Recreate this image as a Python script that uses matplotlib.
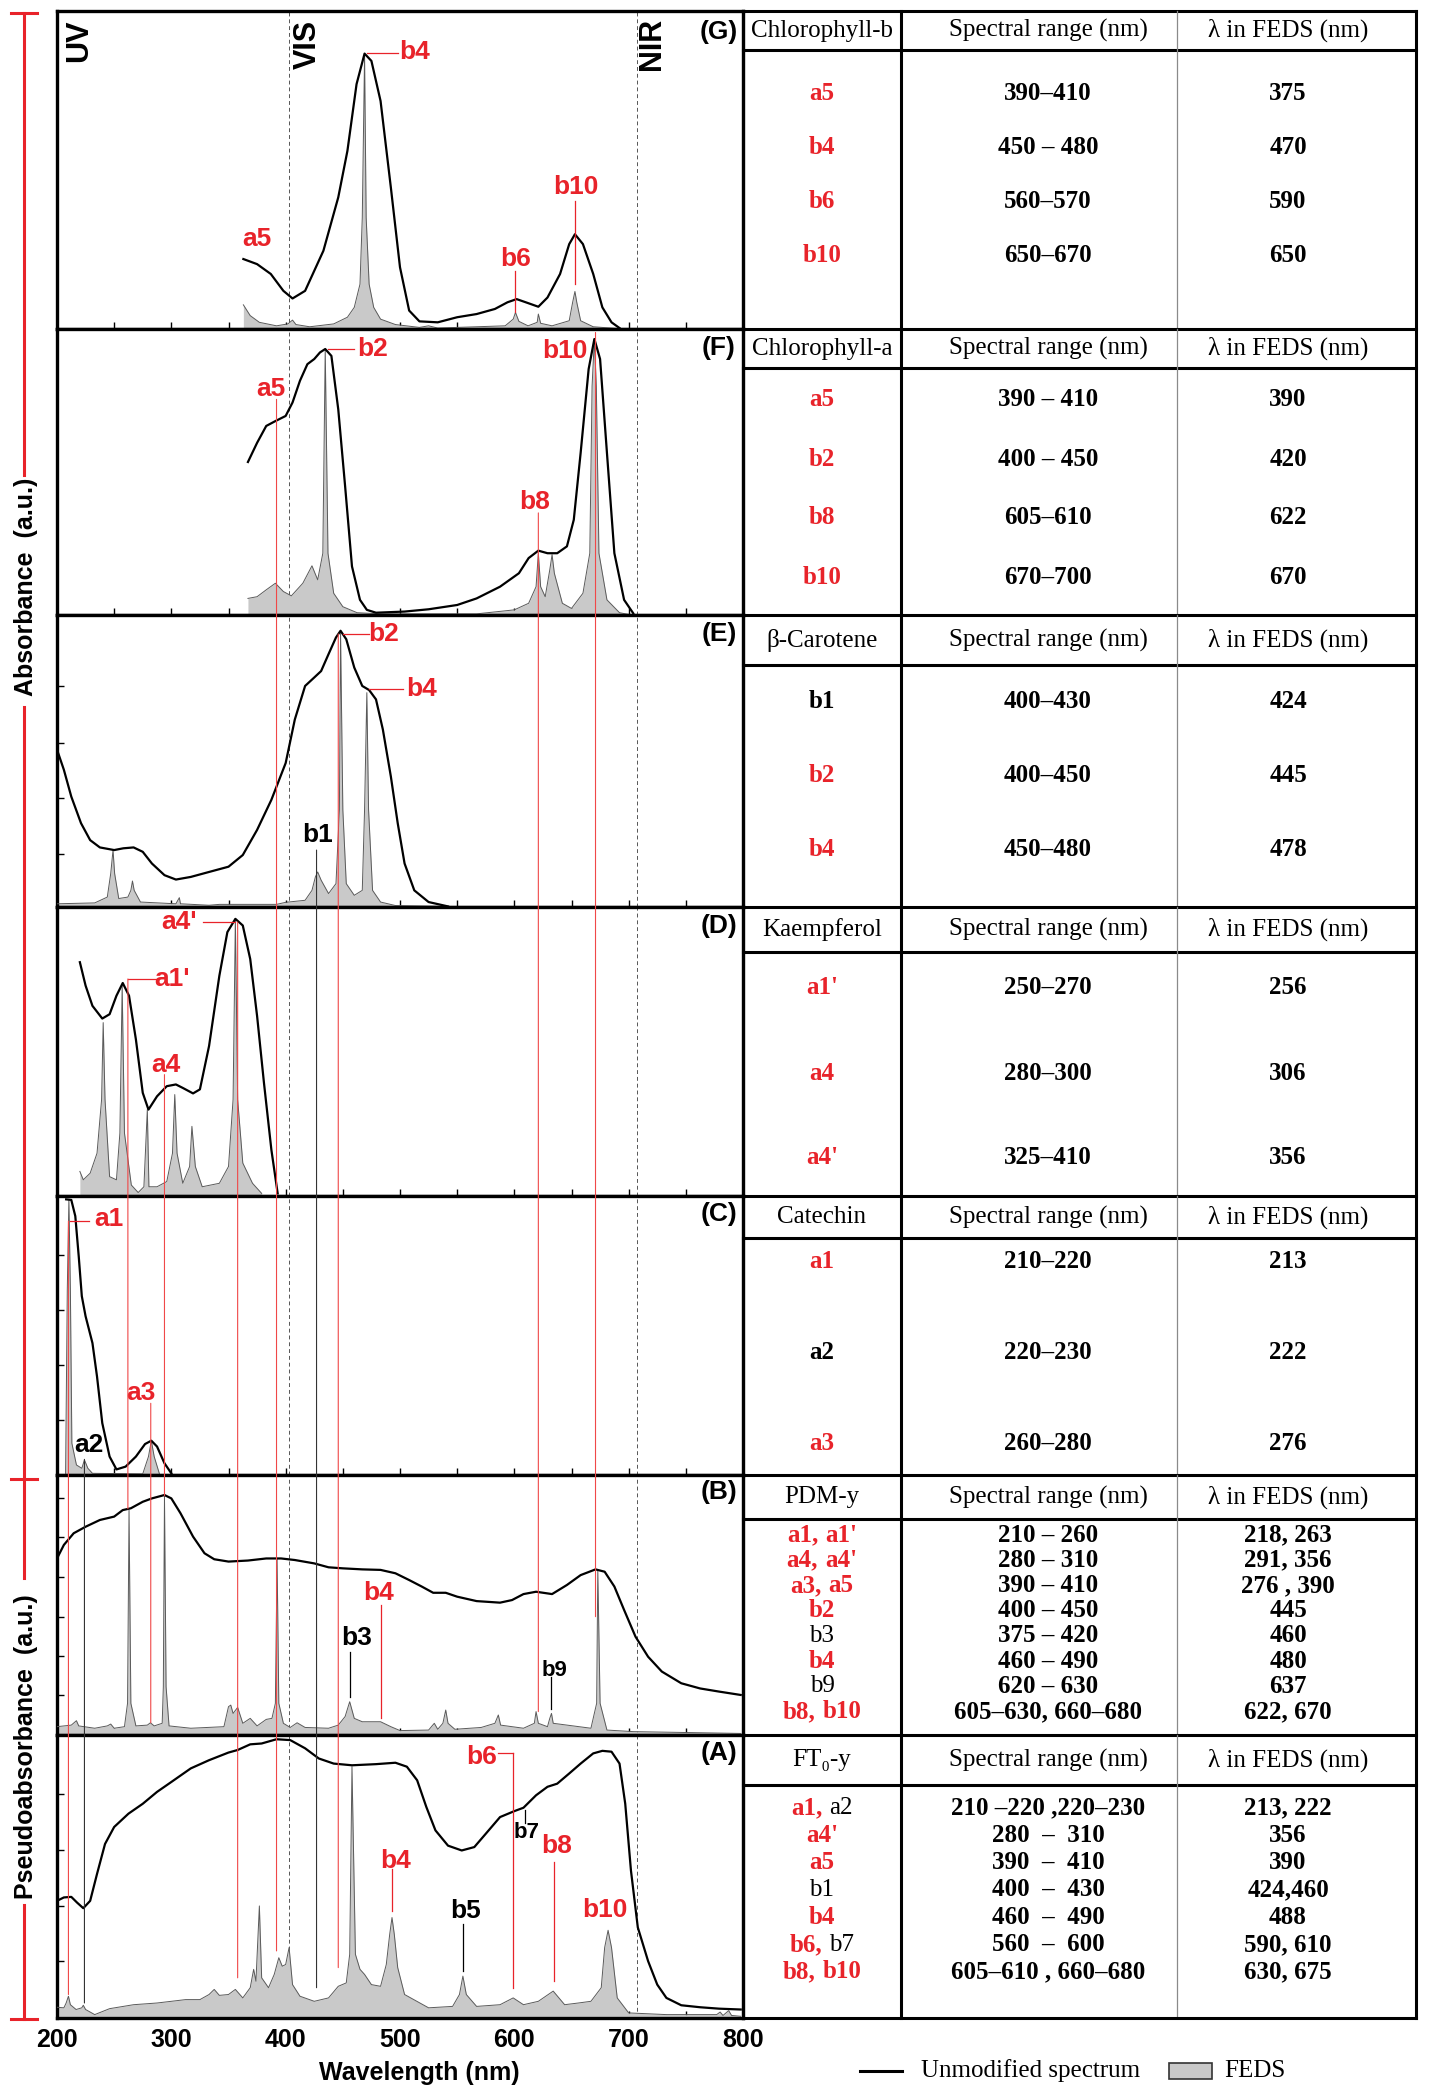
import matplotlib
matplotlib.use('Agg')
import matplotlib.pyplot as plt
import numpy as np
from matplotlib.patches import ConnectionPatch, Rectangle
from matplotlib.offsetbox import TextArea, HPacker, AnnotationBbox

SANS = ['Liberation Sans', 'DejaVu Sans']
SERIF = ['Liberation Serif', 'DejaVu Serif']
plt.rcParams['font.family'] = SANS

RED = '#e8232a'
W, H = 1432, 2093

# ---------------- data: spectra (wavelength nm, absorbance a.u.) ----------------
g_line = [(363, 0.220), (375, 0.204), (387, 0.173), (398, 0.120), (406, 0.096), (417, 0.120),
          (433, 0.246), (446, 0.414), (454, 0.560), (462, 0.770), (469, 0.866), (475, 0.843),
          (483, 0.717), (492, 0.445), (500, 0.194), (508, 0.058), (517, 0.024), (533, 0.021),
          (550, 0.037), (567, 0.047), (583, 0.063), (594, 0.084), (602, 0.094), (610, 0.084),
          (621, 0.070), (629, 0.099), (640, 0.173), (648, 0.267), (653, 0.298), (660, 0.267),
          (669, 0.173), (677, 0.068), (685, 0.021), (692, 0.003)]
g_feds = [(363, 0.076), (369, 0.042), (377, 0.021), (392, 0.010), (402, 0.016), (406, 0.028),
          (409, 0.014), (421, 0.007), (442, 0.016), (454, 0.037), (460, 0.068), (465, 0.141),
          (467, 0.350), (469, 0.860), (470.4, 0.350), (473, 0.141), (477, 0.068), (483, 0.031),
          (496, 0.014), (517, 0.005), (525, 0.010), (533, 0.003), (592, 0.010), (599, 0.031),
          (601, 0.052), (604, 0.024), (612, 0.010), (620, 0.021), (621, 0.047), (623, 0.018),
          (633, 0.010), (648, 0.026), (651, 0.084), (653, 0.118), (654.6, 0.084), (658, 0.026),
          (669, 0.007), (692, 0.001), (800, 0.001)]

f_line = [(367, 0.535), (375, 0.602), (383, 0.661), (391, 0.678), (400, 0.696), (406, 0.743),
          (412.5, 0.819), (419, 0.877), (425, 0.895), (430, 0.918), (434.6, 0.930), (440, 0.906),
          (446, 0.719), (452, 0.450), (458, 0.170), (465, 0.053), (471, 0.018), (479, 0.008),
          (504, 0.012), (525, 0.020), (550, 0.035), (567, 0.058), (587.5, 0.099), (604, 0.146),
          (612.5, 0.199), (621, 0.225), (629, 0.216), (637.5, 0.216), (646, 0.240), (652, 0.333),
          (658, 0.567), (665, 0.860), (670, 0.965), (675, 0.895), (681, 0.567), (687.5, 0.216),
          (696, 0.053), (704, 0.006)]
f_feds = [(367, 0.058), (375, 0.064), (383, 0.088), (391, 0.111), (398, 0.082), (405, 0.067),
          (415, 0.111), (423, 0.172), (428, 0.123), (432.5, 0.216), (434.6, 0.930), (437, 0.216),
          (442, 0.076), (450, 0.029), (462.5, 0.008), (483, 0.004), (567, 0.004), (600, 0.018),
          (612.5, 0.041), (619, 0.099), (621, 0.216), (623, 0.099), (627, 0.064), (631, 0.158),
          (633, 0.211), (635, 0.146), (642, 0.041), (650, 0.023), (660, 0.076), (666, 0.216),
          (668, 0.800), (670, 0.965), (671.7, 0.800), (674, 0.216), (681, 0.053), (692, 0.008),
          (700, 0.002)]

e_line = [(200, 0.539), (206, 0.470), (212.5, 0.378), (221, 0.287), (229, 0.229), (237.5, 0.204),
          (250, 0.195), (258, 0.201), (267, 0.204), (275, 0.189), (283, 0.149), (294, 0.109),
          (304, 0.094), (317, 0.103), (333, 0.120), (350, 0.138), (362.5, 0.178), (375, 0.264),
          (387.5, 0.367), (400, 0.493), (408, 0.642), (417, 0.757), (425, 0.786), (431, 0.808),
          (437.5, 0.866), (444, 0.923), (448, 0.946), (453, 0.917), (460, 0.820), (467, 0.757),
          (473, 0.743), (479, 0.711), (485, 0.608), (492, 0.447), (498, 0.287), (504, 0.149),
          (512.5, 0.057), (525, 0.017), (542, 0.002)]
e_feds = [(200, 0.011), (233, 0.014), (244, 0.034), (247, 0.115), (249, 0.195), (250.4, 0.115),
          (254, 0.029), (262, 0.034), (264.6, 0.057), (266, 0.089), (267.5, 0.057), (273, 0.017),
          (304, 0.011), (307, 0.032), (308, 0.011), (333, 0.006), (342, 0.009), (392, 0.009),
          (400, 0.016), (417, 0.023), (423, 0.057), (426, 0.103), (428, 0.120), (431, 0.092),
          (437.5, 0.046), (444, 0.080), (447, 0.333), (448, 0.940), (450, 0.333), (453, 0.080),
          (460, 0.040), (467, 0.057), (469, 0.333), (471, 0.734), (472.5, 0.333), (476, 0.057),
          (483, 0.017), (496, 0.005), (540, 0.002)]

d_line = [(220, 0.809), (225, 0.728), (231, 0.658), (239.6, 0.614), (246, 0.629), (252, 0.693),
          (257.5, 0.737), (263, 0.693), (269, 0.542), (275, 0.357), (280, 0.299), (287.5, 0.345),
          (296, 0.380), (304, 0.386), (310, 0.374), (319, 0.355), (325, 0.369), (333, 0.519),
          (342, 0.762), (349, 0.913), (356, 0.959), (362.5, 0.936), (369, 0.820), (375, 0.623),
          (381, 0.392), (387.5, 0.160), (393, 0.009)]
d_feds = [(220, 0.085), (223, 0.056), (229, 0.079), (235, 0.148), (239, 0.334), (240.4, 0.600),
          (242, 0.334), (246, 0.067), (252, 0.056), (255, 0.218), (257, 0.728), (259, 0.218),
          (265, 0.038), (271, 0.012), (276, 0.032), (279, 0.299), (280.4, 0.032), (287.5, 0.032),
          (296, 0.050), (301, 0.148), (303, 0.351), (305, 0.148), (310, 0.044), (316, 0.102),
          (318, 0.241), (321, 0.102), (327, 0.032), (342, 0.044), (350, 0.102), (354, 0.334),
          (356, 0.959), (358, 0.334), (362.5, 0.114), (371, 0.044), (379, 0.009)]

c_line = [(208, 0.988), (212.5, 0.986), (216, 0.928), (219, 0.784), (221.7, 0.641), (225, 0.569),
          (231, 0.473), (235, 0.353), (239.6, 0.186), (246, 0.066), (252, 0.020), (260, 0.030),
          (269, 0.066), (277, 0.111), (282.5, 0.123), (287.5, 0.102), (294, 0.042), (300, 0.006)]
c_feds = [(207.5, 0.0), (209, 0.665), (210.4, 0.988), (211.7, 0.665), (213, 0.114), (217, 0.036),
          (221.7, 0.024), (224, 0.054), (227, 0.024), (231, 0.006), (275, 0.004), (280, 0.066),
          (282.5, 0.123), (285, 0.066), (289.6, 0.004)]

b_line = [(200, 0.679), (206, 0.731), (214.6, 0.776), (225, 0.801), (237.5, 0.827), (250, 0.840),
          (257.5, 0.865), (264.6, 0.872), (275, 0.897), (283, 0.910), (294, 0.923), (300, 0.910),
          (308, 0.853), (319, 0.763), (329, 0.699), (337.5, 0.676), (350, 0.667), (367, 0.671),
          (383, 0.679), (396, 0.679), (408, 0.673), (425, 0.660), (437.5, 0.645), (450, 0.641),
          (467, 0.637), (483, 0.635), (496, 0.622), (508, 0.596), (519, 0.571), (529, 0.547),
          (540, 0.547), (550, 0.532), (567, 0.515), (587.5, 0.509), (598, 0.519), (608, 0.542),
          (619, 0.551), (633, 0.542), (646, 0.577), (658, 0.615), (671, 0.637), (679, 0.628),
          (687.5, 0.571), (696, 0.481), (706, 0.378), (717, 0.301), (729, 0.244), (746, 0.199),
          (762.5, 0.179), (779, 0.167), (798, 0.154)]
b_feds = [(200, 0.032), (212.5, 0.038), (217, 0.055), (219, 0.035), (233, 0.026), (244, 0.035),
          (247, 0.042), (250, 0.026), (259, 0.032), (261.7, 0.122), (263, 0.865), (264.6, 0.122),
          (269, 0.035), (279, 0.038), (281.7, 0.047), (285, 0.035), (292, 0.045), (293, 0.186),
          (294, 0.919), (295.4, 0.186), (298, 0.035), (317, 0.026), (346, 0.032), (350, 0.109),
          (352, 0.115), (354, 0.083), (358, 0.106), (362.5, 0.045), (369, 0.064), (375, 0.035),
          (383, 0.060), (388, 0.064), (391, 0.122), (392.5, 0.679), (394, 0.122), (398, 0.045),
          (404, 0.029), (410, 0.047), (417, 0.029), (437.5, 0.026), (446, 0.038), (452, 0.071),
          (456, 0.128), (460, 0.064), (467, 0.051), (483, 0.051), (492, 0.032), (500, 0.017),
          (525, 0.019), (530, 0.045), (533, 0.022), (537.5, 0.045), (540, 0.096), (542, 0.045),
          (548, 0.022), (571, 0.029), (583, 0.045), (586, 0.077), (588, 0.038), (608, 0.026),
          (617.5, 0.045), (619, 0.090), (621, 0.045), (629, 0.032), (631, 0.064), (632.5, 0.083),
          (634, 0.045), (667, 0.026), (672, 0.122), (673, 0.635), (675, 0.122), (681, 0.019),
          (704, 0.013), (798, 0.006)]

a_line = [(200, 0.414), (206, 0.426), (212.5, 0.428), (217.5, 0.408), (223, 0.388), (229, 0.414),
          (235, 0.509), (242, 0.615), (250, 0.675), (262.5, 0.722), (275, 0.757), (287.5, 0.799),
          (300, 0.834), (317, 0.882), (333, 0.911), (350, 0.938), (358, 0.947), (369, 0.967),
          (379, 0.970), (392, 0.985), (404, 0.982), (417, 0.953), (429, 0.917), (442, 0.899),
          (458, 0.893), (479, 0.897), (496, 0.902), (506, 0.888), (515, 0.840), (523, 0.746),
          (531, 0.663), (542, 0.609), (554, 0.592), (565, 0.604), (575, 0.651), (587.5, 0.710),
          (600, 0.731), (608, 0.743), (619, 0.787), (629, 0.817), (637.5, 0.828), (648, 0.864),
          (658, 0.899), (669, 0.935), (677, 0.944), (685, 0.941), (692, 0.899), (697, 0.757),
          (702, 0.521), (708, 0.320), (717, 0.201), (725, 0.118), (733, 0.071), (746, 0.045),
          (762.5, 0.038), (779, 0.033), (798, 0.030)]
a_feds = [(200, 0.038), (206, 0.036), (208, 0.053), (210, 0.077), (211.7, 0.047), (216.7, 0.030),
          (221.7, 0.036), (223, 0.045), (225, 0.030), (233, 0.012), (246, 0.033), (267, 0.047),
          (287.5, 0.053), (312.5, 0.065), (325, 0.065), (333, 0.083), (337.5, 0.101), (342, 0.080),
          (350, 0.083), (356, 0.101), (362.5, 0.071), (369, 0.107), (372, 0.172), (374, 0.130),
          (377, 0.396), (379, 0.142), (385, 0.107), (390, 0.154), (394, 0.213), (397, 0.183),
          (400, 0.189), (403, 0.249), (406, 0.118), (412.5, 0.077), (425, 0.059), (437.5, 0.071),
          (446, 0.112), (453, 0.124), (456, 0.225), (458, 0.888), (461, 0.225), (465, 0.172),
          (469, 0.154), (475, 0.118), (483, 0.112), (488, 0.189), (491, 0.296), (493, 0.355),
          (495, 0.296), (498, 0.178), (504, 0.083), (525, 0.036), (546, 0.041), (552, 0.083),
          (555, 0.148), (558, 0.083), (567, 0.041), (587.5, 0.047), (599, 0.071), (608, 0.047),
          (621, 0.059), (634, 0.095), (644, 0.047), (656, 0.053), (667, 0.059), (676, 0.107),
          (679, 0.249), (682, 0.310), (685, 0.249), (690, 0.071), (700, 0.018), (733, 0.012),
          (777, 0.012), (780, 0.021), (782.5, 0.009), (787.5, 0.026), (790, 0.009), (798, 0.006)]

spectra = {'G': (g_line, g_feds), 'F': (f_line, f_feds), 'E': (e_line, e_feds),
           'D': (d_line, d_feds), 'C': (c_line, c_feds), 'B': (b_line, b_feds),
           'A': (a_line, a_feds)}

# peaks that are matched across spectra (drawn in red)
red_peaks = {"a1", "a1'", "a3", "a4", "a4'", "a5", "b2", "b4", "b6", "b8", "b10"}

# ---------------- data: tables ----------------
chlb_peaks = ['a5', 'b4', 'b6', 'b10']
chlb_range = ['390–410', '450 – 480', '560–570', '650–670']
chlb_lam = ['375', '470', '590', '650']

chla_peaks = ['a5', 'b2', 'b8', 'b10']
chla_range = ['390 – 410', '400 – 450', '605–610', '670–700']
chla_lam = ['390', '420', '622', '670']

carot_peaks = ['b1', 'b2', 'b4']
carot_range = ['400–430', '400–450', '450–480']
carot_lam = ['424', '445', '478']

kaem_peaks = ["a1'", 'a4', "a4'"]
kaem_range = ['250–270', '280–300', '325–410']
kaem_lam = ['256', '306', '356']

cat_peaks = ['a1', 'a2', 'a3']
cat_range = ['210–220', '220–230', '260–280']
cat_lam = ['213', '222', '276']

pdm_peaks = ["a1, a1'", "a4, a4'", 'a3, a5', 'b2', 'b3', 'b4', 'b9', 'b8, b10']
pdm_range = ['210 – 260', '280 – 310', '390 – 410', '400 – 450', '375 – 420', '460 – 490',
             '620 – 630', '605–630, 660–680']
pdm_lam = ['218, 263', '291, 356', '276 , 390', '445', '460', '480', '637', '622, 670']

ft_peaks = ['a1, a2', "a4'", 'a5', 'b1', 'b4', 'b6, b7', 'b8, b10']
ft_range = ['210 –220 ,220–230', '280  –  310', '390  –  410', '400  –  430', '460  –  490',
            '560  –  600', '605–610 , 660–680']
ft_lam = ['213, 222', '356', '390', '424,460', '488', '590, 610', '630, 675']

tables = [('Chlorophyll-b', chlb_peaks, chlb_range, chlb_lam),
          ('Chlorophyll-a', chla_peaks, chla_range, chla_lam),
          ('β-Carotene', carot_peaks, carot_range, carot_lam),
          ('Kaempferol', kaem_peaks, kaem_range, kaem_lam),
          ('Catechin', cat_peaks, cat_range, cat_lam),
          ('PDM-y', pdm_peaks, pdm_range, pdm_lam),
          ('FT₀-y', ft_peaks, ft_range, ft_lam)]

# ---------------- layout ----------------
order = ['G', 'F', 'E', 'D', 'C', 'B', 'A']
bounds = [11, 329, 615, 907, 1196, 1475, 1735, 2018]   # pixel rows of panel edges
head_bottom = [50, 368, 665, 952, 1238, 1519, 1785]
row_first = [93, 400, 702, 988, 1262, 1535, 1808]
row_step = [54.3, 59, 74, 85, 90.5, 25.2, 27.3]
PX0, PX1 = 57, 743
TX = [743, 901, 1177, 1416]

fig = plt.figure(figsize=(W / 100, H / 100), dpi=100)

axes = {}
for i, key in enumerate(order):
    top, bot = bounds[i], bounds[i + 1]
    ax = fig.add_axes([PX0 / W, 1 - bot / H, (PX1 - PX0) / W, (bot - top) / H])
    line, feds = spectra[key]
    fx, fy = np.array(feds).T
    lx, ly = np.array(line).T
    ax.fill_between(fx, 0, fy, color='#c9c9c9', lw=0, zorder=2)
    ax.plot(fx, fy, color='#5a5a5a', lw=0.7, zorder=3)
    ax.plot(lx, ly, color='black', lw=1.6, zorder=4, solid_joinstyle='round')
    for xv in (403, 707):
        ax.axvline(xv, color='#555555', lw=0.7, ls=(0, (4, 3)), zorder=1)
    ax.set_xlim(200, 800)
    ax.set_ylim(0, 1)
    for s in ax.spines.values():
        s.set_linewidth(2.4)
    ax.set_yticks([])
    ax.set_xticks(np.arange(250, 800, 50))
    ax.tick_params(axis='x', direction='in', length=5, width=1, labelbottom=False)
    ax.text(779, 0.935, '(%s)' % key, ha='center', va='center', fontsize=19,
            fontweight='bold')
    axes[key] = ax

# inward y ticks seen on some panels
for key, ticks in [('B', [0.154, 0.305, 0.455, 0.609, 0.763, 0.91]),
                   ('C', [0.198, 0.395, 0.593, 0.79]),
                   ('A', [0.201, 0.396, 0.592, 0.793]),
                   ('E', [0.183, 0.373, 0.562, 0.757])]:
    axes[key].set_yticks(ticks)
    axes[key].tick_params(axis='y', direction='in', length=5, width=1, labelleft=False)

axA = axes['A']
axA.set_xticks(np.arange(200, 801, 100))
axA.set_xticks(np.arange(250, 800, 100), minor=True)
axA.tick_params(axis='x', which='both', direction='in', length=5, width=1,
                labelbottom=True, pad=7)
axA.set_xticklabels([str(v) for v in range(200, 801, 100)], fontsize=18, fontweight='bold')

# region labels in panel G
for txt, xv, yv in [('UV', 219, 0.905), ('VIS', 419, 0.895), ('NIR', 720, 0.895)]:
    axes['G'].text(xv, yv, txt, rotation=90, ha='center', va='center', fontsize=22,
                   fontweight='bold')

# peak annotations: panel, text, x, y, leader segments
annots = [
    ('G', 'b4', 513, 0.87, [(471, 0.869, 498, 0.869)]),
    ('G', 'a5', 375, 0.283, []),
    ('G', 'b6', 601, 0.22, [(601, 0.183, 601, 0.052)]),
    ('G', 'b10', 654, 0.445, [(653, 0.403, 653, 0.141)]),
    ('F', 'b2', 476, 0.93, [(437, 0.93, 460, 0.93)]),
    ('F', 'a5', 387, 0.79, []),
    ('F', 'b8', 617.5, 0.394, []),
    ('F', 'b10', 644, 0.924, []),
    ('E', 'b2', 486, 0.935, [(450, 0.935, 473, 0.935)]),
    ('E', 'b4', 518.5, 0.745, [(473, 0.745, 503, 0.745)]),
    ('E', 'b1', 428, 0.247, []),
    ('D', "a4'", 307, 0.948, [(328, 0.948, 356, 0.948)]),
    ('D', "a1'", 301, 0.751, [(262, 0.751, 287.5, 0.751)]),
    ('D', 'a4', 295, 0.453, []),
    ('C', 'a1', 245, 0.916, [(211.7, 0.91, 228, 0.91)]),
    ('C', 'a3', 273, 0.293, []),
    ('C', 'a2', 228, 0.108, []),
    ('B', 'b4', 481, 0.545, [(483, 0.50, 483, 0.064)]),
    ('B', 'b3', 462.5, 0.372, [(456, 0.32, 456, 0.147)]),
    ('B', 'b9', 635, 0.25, [(632, 0.225, 632, 0.10)]),
    ('A', 'b4', 496, 0.556, [(493, 0.527, 493, 0.379)]),
    ('A', 'b5', 557.5, 0.379, [(555, 0.331, 555, 0.166)]),
    ('A', 'b6', 571, 0.921, [(586, 0.935, 599, 0.935), (599, 0.935, 599, 0.107)]),
    ('A', 'b7', 611, 0.657, [(609, 0.734, 609, 0.69)]),
    ('A', 'b8', 637, 0.609, [(634.6, 0.55, 634.6, 0.13)]),
    ('A', 'b10', 679, 0.381, []),
]
for key, txt, xv, yv, segs in annots:
    col = RED if txt in red_peaks else 'black'
    size = 16 if txt in ('b9', 'b7') else 19
    axes[key].text(xv, yv, txt, color=col, ha='center', va='center', fontsize=size,
                   fontweight='bold', zorder=6)
    for x0, y0, x1, y1 in segs:
        axes[key].plot([x0, x1], [y0, y1], color=col, lw=0.9, zorder=5)

# connector lines between panels: wavelength, start panel, y, end panel, y, peak
connectors = [
    (210, 'C', 0.91, 'A', 0.083, 'a1'),
    (224, 'C', 0.056, 'A', 0.053, 'a2'),
    (262, 'D', 0.751, 'B', 0.87, "a1'"),
    (282, 'C', 0.257, 'B', 0.047, 'a3'),
    (294, 'D', 0.42, 'B', 0.92, 'a4'),
    (358, 'D', 0.948, 'A', 0.142, "a4'"),
    (392, 'F', 0.754, 'A', 0.237, 'a5'),
    (427, 'E', 0.195, 'A', 0.107, 'b1'),
    (446, 'E', 0.935, 'A', 0.178, 'b2'),
    (621, 'F', 0.357, 'B', 0.09, 'b8'),
    (671, 'F', 0.988, 'B', 0.455, 'b10'),
]
for xv, pa, ya, pb, yb, name in connectors:
    col = '#f04848' if name in red_peaks else '#333333'
    con = ConnectionPatch(xyA=(xv, ya), coordsA=axes[pa].transData,
                          xyB=(xv, yb), coordsB=axes[pb].transData,
                          color=col, lw=0.8, zorder=3)
    fig.add_artist(con)

# ---------------- overlay in pixel coordinates ----------------
ov = fig.add_axes([0, 0, 1, 1], zorder=10)
ov.set_xlim(0, W)
ov.set_ylim(H, 0)
ov.axis('off')

# left axis brackets
for y0, y1 in [(13, 475), (707, 1478), (1480, 1578), (1905, 2019)]:
    ov.plot([24, 24], [y0, y1], color=RED, lw=2.2)
for yv in (13, 1479, 2019):
    ov.plot([11, 37], [yv, yv], color=RED, lw=2.2)
ov.text(26, 587, 'Absorbance  (a.u.)', rotation=90, ha='center', va='center',
        fontsize=18, fontweight='bold')
ov.text(26, 1747, 'Pseudoabsorbance  (a.u.)', rotation=90, ha='center', va='center',
        fontsize=18, fontweight='bold')

ov.text(419, 2073, 'Wavelength (nm)', ha='center', va='center', fontsize=18,
        fontweight='bold')


def peak_label(x, y, label, black_bold):
    parts = label.split(', ')
    kids = []
    for i, p in enumerate(parts):
        txt = p + (',' if i < len(parts) - 1 else '')
        is_red = p in red_peaks
        kids.append(TextArea(txt, textprops=dict(
            color=RED if is_red else 'black', fontsize=18, family=SERIF,
            fontweight='bold' if (is_red or black_bold) else 'normal')))
    box = HPacker(children=kids, pad=0, sep=5, align='baseline')
    ab = AnnotationBbox(box, (x, y), xycoords='data', frameon=False,
                        box_alignment=(0.5, 0.5), pad=0)
    ov.add_artist(ab)


cx = [(TX[0] + TX[1]) / 2, 1048, 1288]
for i, (name, peaks, ranges, lams) in enumerate(tables):
    top, bot = bounds[i], bounds[i + 1]
    hb = head_bottom[i]
    # borders
    ov.plot([TX[0], TX[3]], [top, top], color='black', lw=2.2)
    ov.plot([TX[0], TX[3]], [hb, hb], color='black', lw=2.2)
    ov.plot([TX[1], TX[1]], [top, bot], color='black', lw=2.2)
    ov.plot([TX[2], TX[2]], [top, bot], color='#8a8a8a', lw=0.9)
    hy = (top + hb) / 2
    ov.text(cx[0], hy, name, ha='center', va='center', fontsize=18, family=SERIF)
    ov.text(cx[1], hy, 'Spectral range (nm)', ha='center', va='center', fontsize=18,
            family=SERIF)
    ov.text(cx[2], hy, 'λ in FEDS (nm)', ha='center', va='center', fontsize=18,
            family=SERIF)
    small = name in ('PDM-y', 'FT₀-y')
    for j, (pk, rg, lm) in enumerate(zip(peaks, ranges, lams)):
        yv = row_first[i] + j * row_step[i]
        peak_label(cx[0], yv, pk, not small)
        ov.text(cx[1], yv, rg, ha='center', va='center', fontsize=18, family=SERIF,
                fontweight='bold')
        ov.text(cx[2], yv, lm, ha='center', va='center', fontsize=18, family=SERIF,
                fontweight='bold')
ov.plot([TX[0], TX[3]], [bounds[-1], bounds[-1]], color='black', lw=2.2)
ov.plot([TX[0], TX[0]], [bounds[0], bounds[-1]], color='black', lw=2.2)
ov.plot([TX[3], TX[3]], [bounds[0], bounds[-1]], color='black', lw=2.2)

# legend
ov.plot([860, 902], [2071, 2071], color='black', lw=2.2)
ov.text(921, 2071, 'Unmodified spectrum', ha='left', va='center', fontsize=18, family=SERIF)
ov.add_patch(Rectangle((1169, 2063), 43, 16, facecolor='#c9c9c9', edgecolor='#333333', lw=1.2))
ov.text(1224, 2071, 'FEDS', ha='left', va='center', fontsize=18, family=SERIF)

fig.savefig('out.png', dpi=100)
